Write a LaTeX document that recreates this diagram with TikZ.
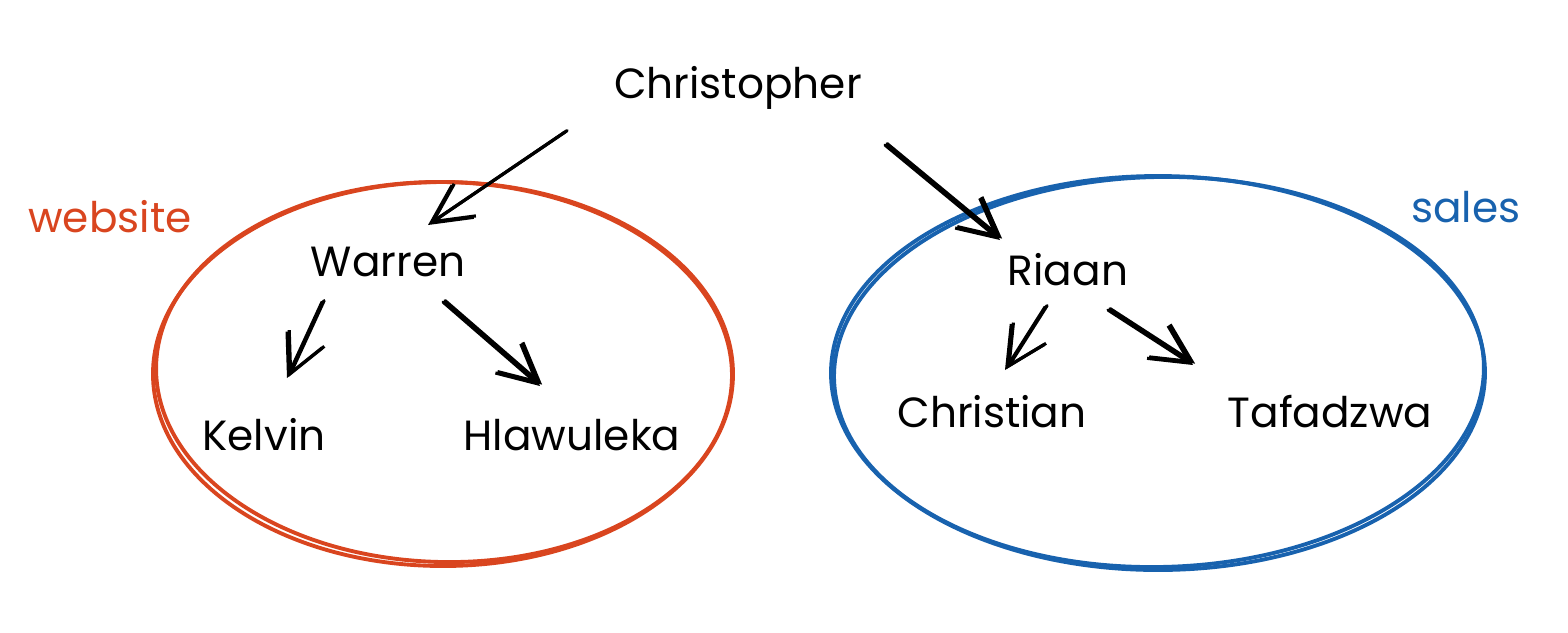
\documentclass[tikz,border=0pt]{standalone}
\usepackage{fontspec}
\setmainfont{Poppins}
\usetikzlibrary{arrows.meta}
\definecolor{webred}{HTML}{D9451F}
\definecolor{salesblue}{HTML}{1862AE}
\tikzset{
  person/.style={font=\fontsize{12}{14}\selectfont, text=black, inner sep=2pt},
  grouplabel/.style={font=\fontsize{12}{14}\selectfont, inner sep=1pt},
  arr/.style={draw=black, line width=0.9pt, line cap=round, line join=round,
     -{Straight Barb[length=11pt,width=11pt,line width=0.9pt]}},
  arrb/.style={arr, transform canvas={xshift=0.6pt,yshift=0.4pt}},
  ring/.style={line width=1.1pt},
}
\begin{document}
\begin{tikzpicture}[x=0.01cm,y=-0.01cm]
\useasboundingbox (0,0) rectangle (1568,632);
% groups
\draw[ring, webred] (443,374) ellipse [x radius=290, y radius=192];
\draw[ring, webred, rotate around={-1.2:(443,374)}] (444,372) ellipse [x radius=288, y radius=190];
\draw[ring, salesblue] (1158,373) ellipse [x radius=327, y radius=197];
\draw[ring, salesblue, rotate around={1.2:(1158,373)}] (1159,372) ellipse [x radius=325, y radius=195];
\node[grouplabel, text=webred] (website) at (110,217) {website};
\node[grouplabel, text=salesblue] (sales) at (1466,207) {sales};
% people
\node[person] (chris) at (738,88) {Christopher};
\node[person] (warren) at (388,262) {Warren};
\node[person] (kelvin) at (264,435) {Kelvin};
\node[person] (hlaw) at (572,435) {Hlawuleka};
\node[person] (riaan) at (1068,270) {Riaan};
\node[person] (christian) at (992,412) {Christian};
\node[person] (tafa) at (1330,412) {Tafadzwa};
% connector ends
\coordinate (c1s) at (565,132); \coordinate (c1e) at (428,225);
\coordinate (c2s) at (885,145); \coordinate (c2e) at (1000,240);
\coordinate (w1s) at (322,302); \coordinate (w1e) at (287,378);
\coordinate (w2s) at (443,302); \coordinate (w2e) at (540,386);
\coordinate (r1s) at (1045,307); \coordinate (r1e) at (1005,370);
\coordinate (r2s) at (1108,310); \coordinate (r2e) at (1193,365);
\foreach \s/\e in {c1s/c1e,c2s/c2e,w1s/w1e,w2s/w2e,r1s/r1e,r2s/r2e}{
  \draw[arr] (\s) -- (\e);
  \draw[arrb] (\s) -- (\e);
}
\end{tikzpicture}
\end{document}
